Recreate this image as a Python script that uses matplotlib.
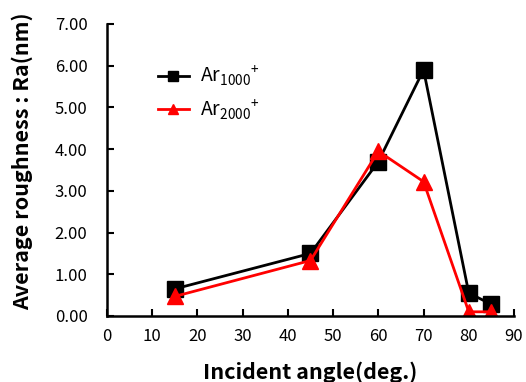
import matplotlib
matplotlib.use("Agg")
import matplotlib.pyplot as plt

# data
angle = [15, 45, 60, 70, 80, 85]
ra_1000 = [0.65, 1.50, 3.70, 5.90, 0.55, 0.28]
ra_2000 = [0.47, 1.33, 3.95, 3.22, 0.10, 0.10]
xticks = [0, 10, 20, 30, 40, 50, 60, 70, 80, 90]
yticks = [0, 1, 2, 3, 4, 5, 6, 7]

plt.rcParams['font.family'] = ['Noto Sans CJK JP', 'DejaVu Sans']
plt.rcParams['mathtext.fontset'] = 'custom'
plt.rcParams['mathtext.rm'] = 'Noto Sans CJK JP'
plt.rcParams['mathtext.it'] = 'Noto Sans CJK JP'

fig = plt.figure(figsize=(5.26, 3.82), dpi=100)
ax = fig.add_axes([0.2034, 0.1728, 0.7738, 0.7644])

ax.plot(angle, ra_1000, color='black', lw=2, marker='s', ms=11,
        label=r'Ar$_{1000}$$^{+}$')
ax.plot(angle, ra_2000, color='red', lw=2, marker='^', ms=11,
        label=r'Ar$_{2000}$$^{+}$')

ax.set_xlim(0, 90)
ax.set_ylim(0, 7)
ax.set_xticks(xticks)
ax.set_yticks(yticks)
ax.set_yticklabels([f"{v:.2f}" for v in yticks])
ax.tick_params(direction='in', length=5, width=1.5, labelsize=12)
ax.tick_params(axis='y', pad=14)
ax.tick_params(axis='x', pad=9)
for side in ['top', 'right']:
    ax.spines[side].set_visible(False)
for side in ['left', 'bottom']:
    ax.spines[side].set_linewidth(1.8)
for lbl in ax.get_xticklabels() + ax.get_yticklabels():
    lbl.set_clip_on(False)

ax.set_xlabel('Incident angle(deg.)', fontsize=15.5, fontweight='bold')
ax.set_ylabel('Average roughness : Ra(nm)', fontsize=15.5, fontweight='bold')
ax.xaxis.set_label_coords(0.499, -0.155)
ax.yaxis.set_label_coords(-0.182, 0.53)

leg = ax.legend(loc='upper left', bbox_to_anchor=(0.105, 0.89), frameon=False,
                fontsize=14, handlelength=1.6, handletextpad=0.6,
                markerscale=0.7, labelspacing=0.45, borderaxespad=0)

plt.savefig("out.png", dpi=100)
